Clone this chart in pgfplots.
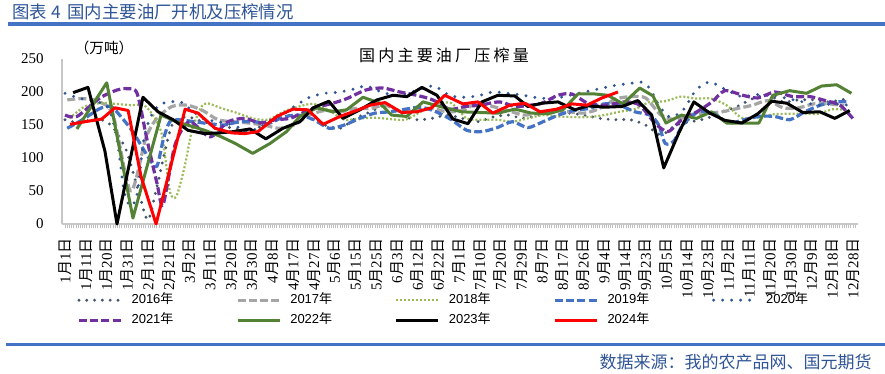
\documentclass[border=0pt]{standalone}
\usepackage{fontspec}
\setmainfont{Liberation Serif}
\newfontfamily\cjk{Noto Sans CJK SC}
\newfontfamily\cjkls[LetterSpace=20]{Noto Sans CJK SC}
\newfontfamily\legf{Liberation Sans}
\usepackage{pgfplots}
\pgfplotsset{compat=1.18}
\definecolor{titleblue}{HTML}{2F5597}
\definecolor{rulecol}{HTML}{4472C4}
\definecolor{c2016}{HTML}{44546A}
\definecolor{c2017}{HTML}{A5A5A5}
\definecolor{c2018}{HTML}{9BBB59}
\definecolor{c2019}{HTML}{4472C4}
\definecolor{c2020}{HTML}{2F5597}
\definecolor{c2021}{HTML}{7030A0}
\definecolor{c2022}{HTML}{548235}
\definecolor{c2024}{HTML}{FF0000}
\newcommand\md[2]{#1{\cjk 月}#2{\cjk 日}}
\begin{document}
\begin{tikzpicture}
\useasboundingbox (0,0) rectangle (442.5pt,187pt);
\fill[white] (0,0) rectangle (442.5pt,187pt);
\node[anchor=west, inner sep=0pt, text=titleblue, font=\cjk\fontsize{8.7}{10}\selectfont] at (6pt,181pt) {图表 4\, 国内主要油厂开机及压榨情况};
\draw[line width=1.6pt, rulecol] (4pt,175pt) -- (442.5pt,175pt);
\begin{axis}[
  at={(31pt,75pt)}, anchor=south west,
  scale only axis, width=398pt, height=82.5pt,
  xmin=-1.4, xmax=363.3, ymin=0, ymax=250,
  clip=false,
  axis x line*=bottom, axis y line*=left,
  axis line style={draw=black!22, line width=0.6pt},
  ytick={0,50,100,150,200,250},
  xtick={0,9.5,19,28.5,38,47.5,57,66.5,76,85.5,95,104.5,114,123.5,133,142.5,152,161.5,171,180.5,190,199.5,209,218.5,228,237.5,247,256.5,266,275.5,285,294.5,304,313.5,323,332.5,342,351.5,361},
  xticklabels={{\md{1}{1}},{\md{1}{11}},{\md{1}{20}},{\md{1}{31}},{\md{2}{11}},{\md{2}{21}},{\md{3}{2}},{\md{3}{11}},{\md{3}{20}},{\md{3}{30}},{\md{4}{8}},{\md{4}{17}},{\md{4}{27}},{\md{5}{6}},{\md{5}{15}},{\md{5}{25}},{\md{6}{3}},{\md{6}{12}},{\md{6}{22}},{\md{7}{1}},{\md{7}{10}},{\md{7}{20}},{\md{7}{29}},{\md{8}{7}},{\md{8}{17}},{\md{8}{26}},{\md{9}{4}},{\md{9}{14}},{\md{9}{23}},{\md{10}{5}},{\md{10}{14}},{\md{10}{23}},{\md{11}{2}},{\md{11}{11}},{\md{11}{20}},{\md{11}{30}},{\md{12}{9}},{\md{12}{18}},{\md{12}{28}}},
  minor xtick={0,1,...,362},
  tick align=outside,
  major tick length=0pt, minor tick length=2.2pt,
  minor tick style={draw=black!25, line width=0.4pt},
  xticklabel style={rotate=90, anchor=east, inner sep=0pt, font=\fontsize{7.5}{8}\selectfont},
  yticklabel style={anchor=east, inner sep=0pt, font=\fontsize{7.5}{8}\selectfont},
  xticklabel shift=7pt, yticklabel shift=9pt,
  /pgf/number format/assume math mode=true,
  legend columns=5,
  legend image code/.code={\draw[#1] (0pt,0pt) -- (21pt,0pt);},
  legend style={at={(axis description cs:0.0188,-0.42)}, anchor=north west,
    draw=none, fill=none, inner sep=0pt, row sep=3.5pt,
    font=\legf\fontsize{6.5}{7}\selectfont,
    nodes={inner sep=0pt, text height=5pt, text depth=1.5pt},
    /tikz/every odd column/.append style={column sep=4.5pt},
    /tikz/every even column/.append style={column sep=31.3pt}},
  every axis plot/.append style={line join=round},
]
% 2016
\addplot[c2016, line width=1.6pt, line cap=round, dash pattern=on 0pt off 3.9pt, smooth, tension=0.45] coordinates {
(0,158) (7,153) (14,160) (21,150) (28,112) (34,45) (38,6) (42,55) (49,150) (56,162) (63,155) (70,150) (77,145) (84,140) (91,150) (98,160) (105,165) (112,160) (119,150) (126,145) (133,160) (140,170) (147,180) (154,165) (161,158) (168,160) (175,165) (182,160) (189,155) (196,162) (203,165) (210,160) (217,165) (224,170) (231,168) (238,165) (245,160) (252,158) (259,158) (266,150) (273,135) (280,150) (287,155) (294,160) (301,170) (308,178) (315,190) (322,195) (329,185) (336,188) (343,188) (350,185) (357,189)};
\addlegendentry{2016{\cjk 年}}
% 2017
\addplot[c2017, line width=1.6pt, dash pattern=on 4pt off 1.6pt, smooth, tension=0.45] coordinates {
(1,188) (8,190) (15,186) (22,165) (30,50) (37,130) (42,160) (49,178) (56,180) (63,172) (70,158) (77,155) (84,153) (91,150) (98,145) (105,150) (112,165) (119,172) (126,170) (133,175) (140,175) (147,180) (154,170) (161,172) (168,175) (175,170) (182,172) (189,183) (196,178) (203,172) (210,165) (217,168) (224,172) (231,170) (238,168) (245,175) (252,189) (259,193) (266,191) (273,165) (280,158) (287,166) (294,168) (301,170) (308,175) (315,180) (322,187) (329,176) (336,176) (343,182) (350,182) (357,179)};
\addlegendentry{2017{\cjk 年}}
% 2018
\addplot[c2018, line width=1.1pt, dash pattern=on 1pt off 1pt, smooth, tension=0.45] coordinates {
(2,160) (9,178) (16,183) (23,182) (30,180) (37,178) (44,140) (48,50) (51,42) (55,90) (58,140) (62,175) (65,183) (72,175) (79,168) (86,160) (93,158) (100,170) (107,178) (114,182) (121,172) (128,158) (135,160) (142,161) (149,159) (156,158) (163,170) (170,182) (177,183) (184,160) (191,158) (198,158) (205,155) (212,160) (219,165) (226,163) (233,162) (240,162) (247,165) (254,170) (261,174) (268,185) (275,186) (282,193) (289,190) (296,190) (303,180) (310,161) (317,161) (324,166) (331,167) (338,167) (345,167) (352,174) (359,172)};
\addlegendentry{2018{\cjk 年}}
% 2019
\addplot[c2019, line width=1.6pt, dash pattern=on 4pt off 1.6pt, smooth, tension=0.45] coordinates {
(1,145) (8,158) (16,175) (21,178) (25,165) (31,140) (38,102) (42,87) (45,128) (48,155) (52,158) (59,155) (66,152) (73,150) (80,155) (87,155) (93,152) (100,162) (107,165) (114,158) (121,145) (128,150) (135,160) (142,168) (149,170) (156,174) (163,177) (170,170) (177,158) (184,142) (191,140) (198,146) (205,155) (212,146) (219,155) (226,165) (233,172) (240,175) (247,182) (254,180) (261,170) (268,165) (272,150) (275,122) (279,126) (283,150) (290,170) (297,168) (304,153) (311,158) (318,163) (325,163) (332,158) (339,170) (346,180) (353,185) (359,185)};
\addlegendentry{2019{\cjk 年}}
% 2020
\addplot[c2020, line width=1.6pt, line cap=round, dash pattern=on 0pt off 4.5pt, smooth, tension=0.45] coordinates {
(0,198) (7,190) (14,186) (20,175) (24,125) (27,50) (30,27) (33,45) (36,127) (39,161) (43,180) (48,185) (53,185) (57,175) (63,160) (70,155) (77,150) (84,140) (91,150) (98,162) (105,178) (112,192) (119,198) (126,200) (133,205) (138,209) (145,200) (152,195) (159,200) (166,208) (170,208) (176,195) (182,192) (189,194) (196,200) (203,198) (210,195) (217,191) (224,190) (231,195) (238,200) (245,205) (252,210) (259,213) (264,215) (268,205) (272,180) (277,162) (283,172) (288,198) (292,211) (296,215) (300,208) (305,200) (310,193) (317,196) (324,195) (331,190) (338,185) (345,180) (352,182) (359,180)};
\addlegendentry{2020{\cjk 年}}
% 2021
\addplot[c2021, line width=1.6pt, dash pattern=on 4pt off 1.6pt, smooth, tension=0.45] coordinates {
(0,165) (5.5,163) (16,191) (23.8,203) (28.4,205) (33,198) (37.6,127) (42.1,62) (44.9,29) (50.4,120) (57,155) (66.4,132) (74.7,155) (82.4,160) (89.3,153) (96.1,158) (103,160) (110,170) (116.8,178) (122.7,183) (129.1,190) (137.8,203) (145.6,206) (153.4,200) (161.1,195) (168.5,188) (176.3,174) (183.2,178) (190,180) (199.1,185) (206.1,178) (212.9,180) (218.5,183) (225.8,195) (232.2,197) (239.5,183) (247.3,180) (256.5,185) (263.3,180) (270.2,153) (276.2,140) (282.6,158) (289.5,170) (296.4,185) (302.3,202) (310.5,195) (317.4,191) (325.2,200) (333.4,193) (341.2,193) (347.2,188) (355,180) (360.9,160)};
\addlegendentry{2021{\cjk 年}}
% 2022
\addplot[c2022, line width=1.5pt] coordinates {
(5.4,144) (19.1,214) (31.1,9) (44,165) (51,155) (58,148) (64,142) (71,133) (78,122) (86,107) (93.9,122) (101.5,140) (107.6,163) (115.3,176) (122.7,170) (129,173) (136.5,192) (144.3,183) (149.6,165) (156.5,163) (164,185) (171.8,178) (181.7,170) (189.2,169) (198.3,168) (206.1,174) (213.7,168) (221.2,167) (228.1,173) (235,197) (242.7,197) (248.7,195) (255.6,182) (263.3,206) (269.4,194) (275.3,153) (282.4,165) (289.3,160) (296.2,170) (303.1,153) (310.5,153) (317.9,153) (324.3,195) (332,202) (339.7,198) (346.6,209) (353.5,211) (360.3,198)};
\addlegendentry{2022{\cjk 年}}
% 2023
\addplot[black, line width=1.5pt] coordinates {
(3.7,199) (10.5,207) (18.3,110) (23.8,0) (35.7,192) (42.6,170) (49.5,158) (56.3,142) (63.7,137) (70.5,138) (77.4,140) (84.7,144) (92,129) (99.8,145) (107.6,155) (113.6,176) (120.9,186) (127.3,160) (135.1,173) (142.9,188) (150.2,195) (156.6,193) (163.5,207) (170.4,195) (177.7,159) (184.6,152) (191,185) (198.3,195) (206.1,194) (212,178) (218.5,183) (225.8,185) (233.6,173) (239.5,179) (247.3,177) (255.1,178) (262.4,187) (268.8,165) (274.3,85) (281.2,138) (288.1,185) (295.4,168) (302.3,157) (310.1,153) (317.4,167) (323.8,186) (330.7,183) (338,169) (345.8,170) (352.7,160) (359.5,172)};
\addlegendentry{2023{\cjk 年}}
% 2024
\addplot[c2024, line width=1.5pt] coordinates {
(2.3,151) (9.2,155) (16.8,159) (22.9,176) (28.9,172) (34.8,72) (41.7,0) (55,174) (60.9,168) (68.7,145) (76.5,138) (82.4,137) (88.4,140) (97,163) (104.4,174) (111.3,173) (118.2,151) (126,163) (133.6,172) (139.7,180) (146.6,184) (154.2,169) (161.1,170) (167.9,176) (174,195) (182.3,182) (189.2,185) (196,168) (203.8,180) (210.7,183) (217.6,170) (225.3,174) (232.2,182) (239.1,180) (246,191) (253.3,200)};
\addlegendentry{2024{\cjk 年}}
\end{axis}
\node[inner sep=0pt, font=\cjk\fontsize{7.3}{8}\selectfont] at (52pt,163pt) {（万吨）};
\node[inner sep=0pt, font=\cjkls\fontsize{8}{9}\selectfont] at (222pt,159.5pt) {国内主要油厂压榨量};
\draw[line width=1.5pt, rulecol] (3pt,14.5pt) -- (442.5pt,14.5pt);
\node[anchor=east, inner sep=0pt, text=titleblue, font=\cjk\fontsize{8.5}{9}\selectfont] at (436pt,6pt) {数据来源：我的农产品网、国元期货};
\end{tikzpicture}
\end{document}
